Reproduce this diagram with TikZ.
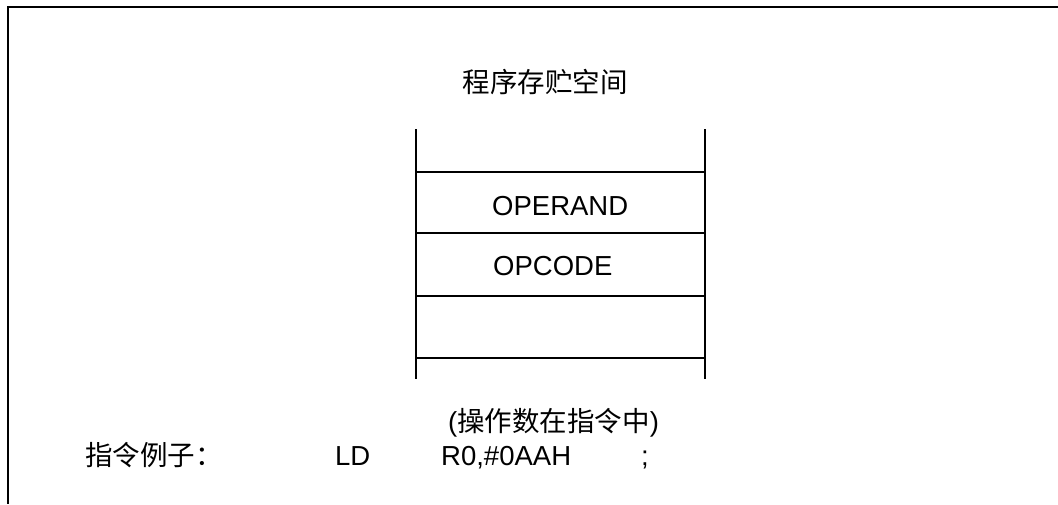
\documentclass[tikz,border=0pt]{standalone}
\usepackage{fontspec}
\setmainfont{Liberation Sans}
\newfontfamily\cjk{Noto Sans CJK SC}
\begin{document}
\begin{tikzpicture}[x=1pt,y=-1pt,
  framedecorate/.style={line width=1.5pt},
  celldecorate/.style={line width=1.2pt},
  textdecorate/.style={inner sep=0pt,font=\fontsize{27.5}{33}\selectfont}]
\useasboundingbox (0,0) rectangle (1058,504);
%% outer frame
\draw[framedecorate] (1058,7) -- (8,7) -- (8,504);
%% memory column
\foreach \x in {416,705}
{
  \draw[celldecorate] (\x,129) -- (\x,379);
}
\foreach \y in {172,233,296,358}
{
  \draw[celldecorate] (416,\y) -- (705,\y);
}
%% labels
\node[textdecorate,anchor=base] (title) at (545,92) {\cjk 程序存贮空间};
\node[textdecorate,anchor=base west] (operand) at (492,215) {OPERAND};
\node[textdecorate,anchor=base west] (opcode) at (493,275) {OPCODE};
\node[textdecorate,anchor=base west] (note) at (448,431) {({\cjk 操作数在指令中})};
\node[textdecorate,anchor=base west] (example) at (85,465) {\cjk 指令例子：};
\node[textdecorate,anchor=base west] (mnemonic) at (335,465) {LD};
\node[textdecorate,anchor=base west] (operands) at (441,465) {R0,\#0AAH};
\node[textdecorate,anchor=base west] (semicolon) at (641,465) {;};
\end{tikzpicture}
\end{document}
